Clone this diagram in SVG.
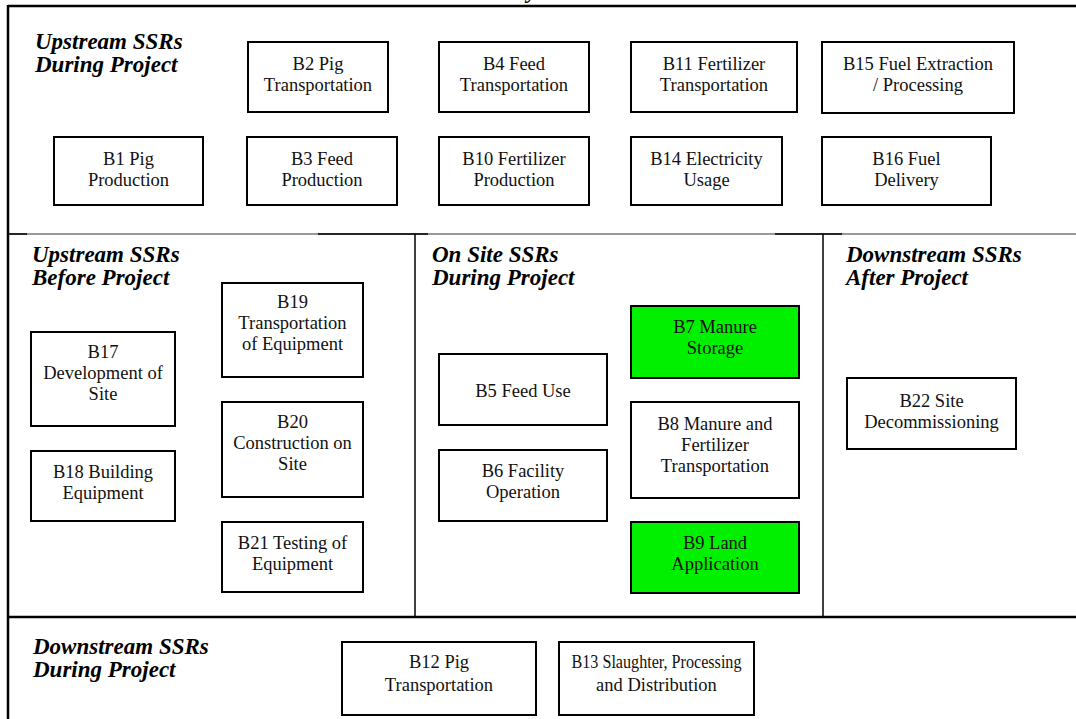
<svg xmlns="http://www.w3.org/2000/svg" width="1076" height="719" viewBox="0 0 1076 719">
<style>
.bg{fill:#ffffff}
.box{fill:#ffffff;stroke:#000;stroke-width:2}
.green{fill:#00f000;stroke:#000;stroke-width:2}
.t{font-family:'Liberation Serif','Times New Roman',Tinos,'Noto Serif','DejaVu Serif',serif;font-size:18.5px;fill:#111;text-anchor:middle}
.h{font-family:'Liberation Serif','Times New Roman',Tinos,'Noto Serif','DejaVu Serif',serif;font-size:23px;font-weight:bold;font-style:italic;fill:#000}
.thick{stroke:#000;stroke-width:2.5;fill:none}
.thin{stroke:#333;stroke-width:1;fill:none}
.sep{stroke:#000;stroke-width:1.5;fill:none}
</style>
<rect class="bg" x="0" y="0" width="1076" height="719"/>
<text class="h" x="527" y="-2">y</text>
<g id="frame">
<line class="thick" x1="8" y1="6" x2="1076" y2="6"/>
<line class="thick" x1="8" y1="5" x2="8" y2="719"/>
<line class="thin" x1="8" y1="234" x2="1076" y2="234"/>
<line class="sep" x1="8" y1="234" x2="27" y2="234"/>
<line class="sep" x1="318" y1="234" x2="428" y2="234"/>
<line class="sep" x1="775" y1="234" x2="842" y2="234"/>
<line class="sep" x1="415" y1="234" x2="415" y2="617"/>
<line class="sep" x1="823" y1="234" x2="823" y2="617"/>
<line class="thick" x1="8" y1="617" x2="1076" y2="617"/>
</g>
<g id="headings">
<text class="h" x="35" y="49">Upstream SSRs</text>
<text class="h" x="35" y="72">During Project</text>
<text class="h" x="32" y="262">Upstream SSRs</text>
<text class="h" x="32" y="285">Before Project</text>
<text class="h" x="432" y="262">On Site SSRs</text>
<text class="h" x="432" y="285">During Project</text>
<text class="h" x="846" y="262">Downstream SSRs</text>
<text class="h" x="846" y="285">After Project</text>
<text class="h" x="33" y="654">Downstream SSRs</text>
<text class="h" x="33" y="677">During Project</text>
</g>
<g id="B2"><rect class="box" x="248" y="42" width="140" height="70"/><text class="t" x="318" y="70">B2 Pig</text><text class="t" x="318" y="91">Transportation</text></g>
<g id="B4"><rect class="box" x="439" y="42" width="150" height="70"/><text class="t" x="514" y="70">B4 Feed</text><text class="t" x="514" y="91">Transportation</text></g>
<g id="B11"><rect class="box" x="631" y="42" width="166" height="70"/><text class="t" x="714" y="70">B11 Fertilizer</text><text class="t" x="714" y="91">Transportation</text></g>
<g id="B15"><rect class="box" x="822" y="42" width="192" height="71"/><text class="t" x="918" y="70">B15 Fuel Extraction</text><text class="t" x="918" y="91">/ Processing</text></g>
<g id="B1"><rect class="box" x="54" y="137" width="149" height="68"/><text class="t" x="128.5" y="165">B1 Pig</text><text class="t" x="128.5" y="186">Production</text></g>
<g id="B3"><rect class="box" x="247" y="137" width="150" height="68"/><text class="t" x="322" y="165">B3 Feed</text><text class="t" x="322" y="186">Production</text></g>
<g id="B10"><rect class="box" x="439" y="137" width="150" height="68"/><text class="t" x="514" y="165">B10 Fertilizer</text><text class="t" x="514" y="186">Production</text></g>
<g id="B14"><rect class="box" x="631" y="137" width="151" height="68"/><text class="t" x="706.5" y="165">B14 Electricity</text><text class="t" x="706.5" y="186">Usage</text></g>
<g id="B16"><rect class="box" x="822" y="137" width="169" height="68"/><text class="t" x="906.5" y="165">B16 Fuel</text><text class="t" x="906.5" y="186">Delivery</text></g>
<g id="B19"><rect class="box" x="222" y="283" width="141" height="94"/><text class="t" x="292.5" y="308">B19</text><text class="t" x="292.5" y="329">Transportation</text><text class="t" x="292.5" y="350">of Equipment</text></g>
<g id="B17"><rect class="box" x="31" y="332" width="144" height="94"/><text class="t" x="103" y="358">B17</text><text class="t" x="103" y="379">Development of</text><text class="t" x="103" y="400">Site</text></g>
<g id="B20"><rect class="box" x="222" y="402" width="141" height="95"/><text class="t" x="292.5" y="428">B20</text><text class="t" x="292.5" y="449">Construction on</text><text class="t" x="292.5" y="470">Site</text></g>
<g id="B18"><rect class="box" x="31" y="451" width="144" height="70"/><text class="t" x="103" y="478">B18 Building</text><text class="t" x="103" y="499">Equipment</text></g>
<g id="B21"><rect class="box" x="222" y="522" width="141" height="70"/><text class="t" x="292.5" y="549">B21 Testing of</text><text class="t" x="292.5" y="570">Equipment</text></g>
<g id="B5"><rect class="box" x="439" y="354" width="168" height="71"/><text class="t" x="523" y="397">B5 Feed Use</text></g>
<g id="B6"><rect class="box" x="439" y="450" width="168" height="71"/><text class="t" x="523" y="477">B6 Facility</text><text class="t" x="523" y="498">Operation</text></g>
<g id="B7"><rect class="green" x="631" y="306" width="168" height="72"/><text class="t" x="715" y="333">B7 Manure</text><text class="t" x="715" y="354">Storage</text></g>
<g id="B8"><rect class="box" x="631" y="402" width="168" height="96"/><text class="t" x="715" y="430">B8 Manure and</text><text class="t" x="715" y="451">Fertilizer</text><text class="t" x="715" y="472">Transportation</text></g>
<g id="B9"><rect class="green" x="631" y="522" width="168" height="71"/><text class="t" x="715" y="549">B9 Land</text><text class="t" x="715" y="570">Application</text></g>
<g id="B22"><rect class="box" x="847" y="378" width="169" height="71"/><text class="t" x="931.5" y="407">B22 Site</text><text class="t" x="931.5" y="428">Decommissioning</text></g>
<g id="B12"><rect class="box" x="342" y="642" width="194" height="73"/><text class="t" x="439" y="668">B12 Pig</text><text class="t" x="439" y="691">Transportation</text></g>
<g id="B13"><rect class="box" x="559" y="642" width="195" height="73"/><text class="t" x="656.5" y="668" textLength="170" lengthAdjust="spacingAndGlyphs">B13 Slaughter, Processing</text><text class="t" x="656.5" y="691">and Distribution</text></g>
<g id="connectors"></g>
</svg>
